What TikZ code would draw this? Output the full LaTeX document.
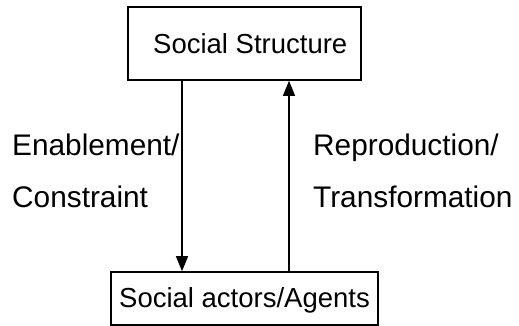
\documentclass[tikz,border=0pt]{standalone}
\usepackage{fontspec}
\setmainfont{Liberation Sans}
\usetikzlibrary{arrows.meta}
\begin{document}
\begin{tikzpicture}[x=1pt,y=-1pt,
  box/.style={draw, line width=1.6pt, inner sep=0pt},
  lbl/.style={anchor=base west, inner sep=0pt, font=\fontsize{27.5}{33}\selectfont},
  side/.style={lbl, font=\fontsize{29.8}{36}\selectfont},
  link/.style={line width=1.3pt, -{Triangle[length=15pt,width=12pt]}}]
  \useasboundingbox (0,0) rectangle (519,326);
  % boxes
  \node[box, minimum width=233pt, minimum height=73pt] (ss) at (244.5,43.5) {};
  \node[box, minimum width=267pt, minimum height=53pt] (sa) at (244.5,298.5) {};
  % box texts
  \node[lbl] (sst) at (153,54) {Social Structure};
  \node[lbl, anchor=base] (sat) at (244.5,307) {Social actors/Agents};
  % side labels
  \node[side] (en) at (12,155) {Enablement/};
  \node[side] (co) at (12,207) {Constraint};
  \node[side] (re) at (313,155) {Reproduction/};
  \node[side] (tr) at (313,207) {Transformation};
  % connectors
  \draw[link] (ss.south -| 182,0) -- (sa.north -| 182,0);
  \draw[link] (sa.north -| 289,0) -- (ss.south -| 289,0);
\end{tikzpicture}
\end{document}
